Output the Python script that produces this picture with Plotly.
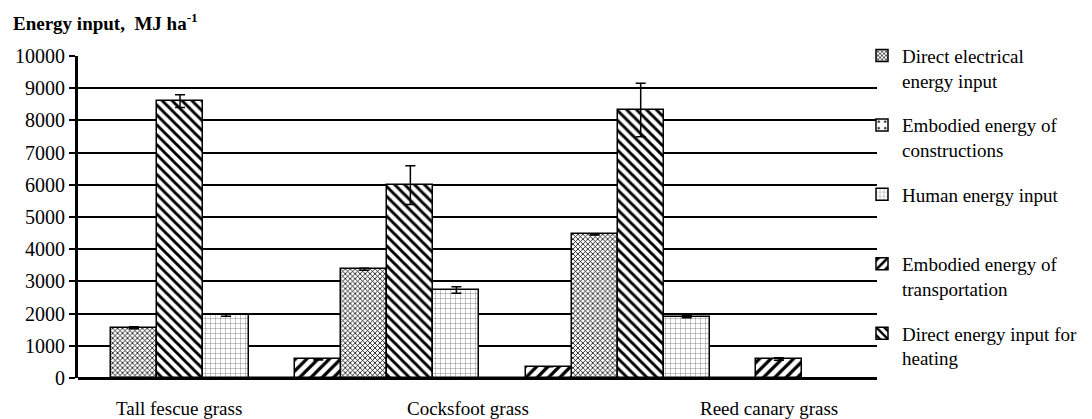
import plotly.graph_objects as go

categories = ["Tall fescue grass", "Cocksfoot grass", "Reed canary grass"]

electrical = [1560, 3380, 4460]
electrical_err = [30, 30, 20]
heating = [8600, 5990, 8320]
heating_err = [200, 600, 830]
human = [1955, 2730, 1905]
human_err = [40, 100, 30]
constructions = [0, 0, 0]
constructions_err = [0, 0, 0]
transportation = [580, 350, 590]
transportation_err = [20, 0, 40]

y_ticks = [0, 1000, 2000, 3000, 4000, 5000, 6000, 7000, 8000, 9000, 10000]

FONT = "Times New Roman, Liberation Serif, DejaVu Serif, serif"

# slot order within each category (left to right) and legend rank
series = [
    ("Direct electrical<br>energy input", electrical, electrical_err, dict(shape="x", size=3.5, solidity=0.4), 1),
    ("Direct energy input for<br>heating", heating, heating_err, dict(shape="\\", size=7, solidity=0.42), 5),
    ("Human energy input<br>&nbsp;", human, human_err, dict(shape="+", size=5, solidity=0.12, fgcolor="#444"), 3),
    ("Embodied energy of<br>constructions", constructions, constructions_err, dict(shape=".", size=8, solidity=0.1), 2),
    ("Embodied energy of<br>transportation", transportation, transportation_err, dict(shape="/", size=8, solidity=0.4), 4),
]

fig = go.Figure()
for name, vals, errs, pat, rank in series:
    p = dict(fgcolor="black", bgcolor="white", fillmode="replace")
    p.update(pat)
    fig.add_trace(go.Bar(
        x=categories, y=vals, name=name, legendrank=rank, legendgroup=name,
        marker=dict(color="white", line=dict(color="black", width=1.5), pattern=p),
        error_y=dict(type="data", array=errs, visible=True, color="black", thickness=1.5, width=5),
    ))

# the page places the figure 8px from the window's top-left corner
fig.update_layout(
    width=1084, height=411,
    margin=dict(l=70, r=215, t=48, b=41, autoexpand=False),
    barmode="group", bargap=0, bargroupgap=0,
    plot_bgcolor="white", paper_bgcolor="white",
    font=dict(family=FONT, size=19, color="black"),
    title=dict(text="<b>Energy input,  MJ ha<sup>-1</sup></b>", font=dict(family=FONT, size=19, color="black"),
               xref="container", x=5/1084, xanchor="left", yref="container", y=1-15/411, yanchor="middle"),
    legend=dict(xref="container", x=854/1084, xanchor="left", yref="paper", y=1.06, yanchor="top",
                font=dict(family=FONT, size=19), valign="top", tracegroupgap=17, maxheight=400,
                traceorder="grouped", bgcolor="rgba(0,0,0,0)"),
    showlegend=True,
)
fig.update_xaxes(type="category", range=[-0.643, 2.826], showticklabels=False, ticks="",
                 showline=False, showgrid=False, zeroline=False)
fig.update_yaxes(range=[0, 10000], tickvals=y_ticks, tickformat="d", ticks="outside", ticklen=6, tickwidth=2,
                 tickcolor="black", showline=True, linecolor="black", linewidth=3, showgrid=True,
                 gridcolor="black", gridwidth=2, zeroline=True, zerolinecolor="black", zerolinewidth=3,
                 ticklabelstandoff=0, tickfont=dict(family=FONT, size=20))

label_x = [0.1264, 0.488, 0.865]
for cat, lx in zip(categories, label_x):
    fig.add_annotation(text=cat, x=lx, xref="paper", xanchor="center", y=0, yref="paper", yanchor="middle",
                       yshift=-30, showarrow=False, font=dict(family=FONT, size=19, color="black"))

fig.write_html("out.html")
